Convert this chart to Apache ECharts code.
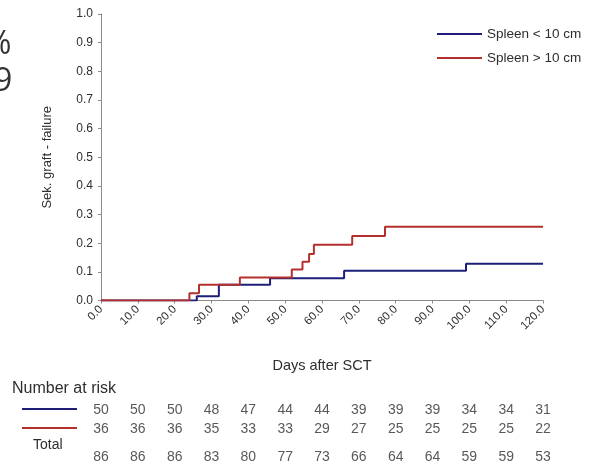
<!DOCTYPE html>
<html>
<head>
<meta charset="utf-8">
<script src="https://cdn.jsdelivr.net/npm/echarts@6/dist/echarts.min.js"></script>
<style>
  html, body { margin: 0; padding: 0; background: #fff; }
  #chart { width: 599px; height: 465px; }
</style>
</head>
<body>
<div id="chart"></div>
<script>
// Cumulative incidence of secondary graft failure by spleen size
const seriesNames = ['Spleen < 10 cm', 'Spleen > 10 cm'];
// [day, cumulative incidence after the event]
const spleenSmall = [[0, 0], [26, 0.015], [32, 0.055], [45.9, 0.078], [66, 0.104], [99.1, 0.128], [120, 0.128]];
const spleenLarge = [[0, 0], [24, 0.025], [26.6, 0.055], [37.7, 0.08], [51.8, 0.108], [54.7, 0.135], [56.5, 0.162], [57.8, 0.195], [68.2, 0.225], [77.1, 0.257], [120, 0.257]];

// Number at risk table
const riskDays = [0, 10, 20, 30, 40, 50, 60, 70, 80, 90, 100, 110, 120];
const riskSmall = [50, 50, 50, 48, 47, 44, 44, 39, 39, 39, 34, 34, 31];
const riskLarge = [36, 36, 36, 35, 33, 33, 29, 27, 25, 25, 25, 25, 22];
const riskTotal = [86, 86, 86, 83, 80, 77, 73, 66, 64, 64, 59, 59, 53];

const colors = ['#1e1e78', '#b3302d'];
const FONT = 'Liberation Sans, Arial, sans-serif';
const TXT = '#2e2e2e';

const chart = echarts.init(document.getElementById('chart'), null, { renderer: 'canvas' });

function riskSeries(counts, dy) {
  return {
    type: 'scatter',
    xAxisIndex: 1,
    yAxisIndex: 1,
    symbolSize: 0,
    silent: true,
    data: riskDays.map((d, i) => [d, 0, counts[i]]),
    label: {
      show: true,
      position: 'inside',
      offset: [0, dy],
      formatter: p => String(p.value[2]),
      color: TXT,
      fontFamily: FONT,
      fontSize: 14
    }
  };
}

const option = {
  animation: false,
  backgroundColor: '#fff',
  color: colors,
  grid: [
    { left: 101, right: 56, top: 14, bottom: 164.5 },
    { left: 101, right: 56, top: 409, height: 1 }
  ],
  legend: {
    orient: 'vertical',
    left: 432,
    top: 22,
    itemWidth: 45,
    itemHeight: 2,
    itemGap: 10,
    icon: 'rect',
    textStyle: { color: TXT, fontFamily: FONT, fontSize: 13.5 },
    data: seriesNames
  },
  xAxis: [
    {
      type: 'value',
      min: 0, max: 120, interval: 10,
      name: 'Days after SCT',
      nameLocation: 'middle',
      nameGap: 58,
      nameTextStyle: { color: TXT, fontFamily: FONT, fontSize: 14.5 },
      axisLine: { show: true, lineStyle: { color: '#8a8a8a', width: 1 } },
      axisTick: { show: true, length: 3, lineStyle: { color: '#8a8a8a' } },
      splitLine: { show: false },
      axisLabel: {
        rotate: 45,
        margin: 7,
        color: TXT,
        fontFamily: FONT,
        fontSize: 11.5,
        formatter: v => v.toFixed(1)
      }
    },
    { type: 'value', gridIndex: 1, min: 0, max: 120, show: false }
  ],
  yAxis: [
    {
      type: 'value',
      min: 0, max: 1, interval: 0.1,
      name: 'Sek. graft - failure',
      nameLocation: 'middle',
      nameGap: 47,
      nameTextStyle: { color: TXT, fontFamily: FONT, fontSize: 13 },
      axisLine: { show: true, lineStyle: { color: '#8a8a8a', width: 1 } },
      axisTick: { show: true, length: 3, lineStyle: { color: '#8a8a8a' } },
      splitLine: { show: false },
      axisLabel: {
        margin: 8,
        color: TXT,
        fontFamily: FONT,
        fontSize: 12,
        formatter: v => v.toFixed(1)
      }
    },
    { type: 'value', gridIndex: 1, min: 0, max: 1, show: false }
  ],
  series: [
    {
      name: seriesNames[0],
      type: 'line',
      step: 'end',
      showSymbol: false,
      lineStyle: { width: 2, color: colors[0] },
      data: spleenSmall
    },
    {
      name: seriesNames[1],
      type: 'line',
      step: 'end',
      showSymbol: false,
      lineStyle: { width: 2, color: colors[1] },
      data: spleenLarge
    },
    riskSeries(riskSmall, 0),
    riskSeries(riskLarge, 19),
    riskSeries(riskTotal, 47)
  ],
  graphic: [
    // fragments of neighbouring text cut off at the left edge
    { type: 'text', left: -15, top: 29, style: { text: '%', fill: '#333', font: '32px "Open Sans", sans-serif' } },
    { type: 'text', left: -6, top: 66, style: { text: '9', fill: '#333', font: '32px "Open Sans", sans-serif' } },
    { type: 'text', left: 12, top: 381, style: { text: 'Number at risk', fill: TXT, font: '16px ' + FONT } },
    { type: 'line', shape: { x1: 22, y1: 409, x2: 77, y2: 409 }, style: { stroke: colors[0], lineWidth: 2 } },
    { type: 'line', shape: { x1: 22, y1: 428, x2: 77, y2: 428 }, style: { stroke: colors[1], lineWidth: 2 } },
    { type: 'text', left: 33, top: 438, style: { text: 'Total', fill: TXT, font: '14px ' + FONT } }
  ]
};

chart.setOption(option);
</script>
</body>
</html>
